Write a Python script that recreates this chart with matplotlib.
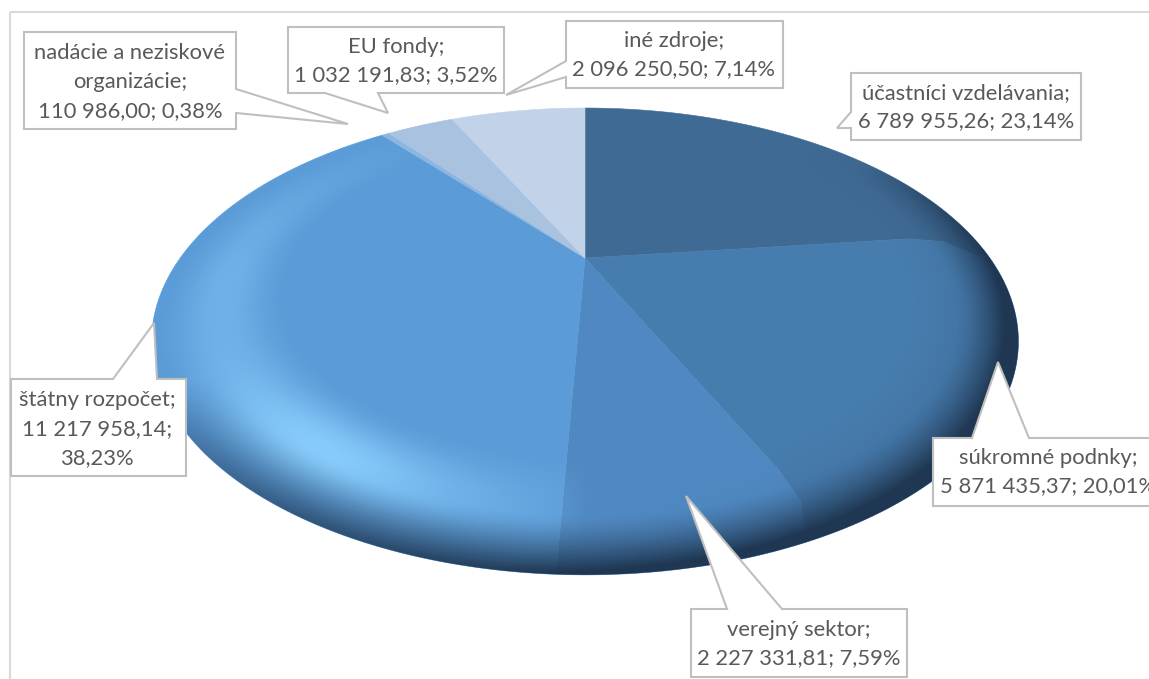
import numpy as np
import matplotlib
matplotlib.use("Agg")
from matplotlib import pyplot as plt
from matplotlib.path import Path
from matplotlib.patches import Polygon, Rectangle
from matplotlib.transforms import Transform, Affine2D

plt.rcParams['font.family'] = ['Lato', 'DejaVu Sans']

categories = ["účastníci vzdelávania", "súkromné podnky", "verejný sektor", "štátny rozpočet",
              "nadácie a neziskové organizácie", "EU fondy", "iné zdroje"]
values = [6789955.26, 5871435.37, 2227331.81, 11217958.14, 110986.00, 1032191.83, 2096250.50]
value_labels = ["6 789 955,26", "5 871 435,37", "2 227 331,81", "11 217 958,14", "110 986,00", "1 032 191,83", "2 096 250,50"]
percent_labels = ["23,14%", "20,01%", "7,59%", "38,23%", "0,38%", "3,52%", "7,14%"]
slice_colors = ["#3f6a93", "#477cae", "#5089c2", "#5b9bd7", "#8db5df", "#a9c2e0", "#c1d2e9"]

W, H = 1149, 679
cx, cy = 585, 258
c = 0.3575
k = 203.6
d = 404.8


def project(xy):
    x, y = xy[:, 0], -xy[:, 1]  # y runs towards the viewer after the flip
    r = np.hypot(x, y)
    th = np.arctan2(x, -y)
    # slice edges curl clockwise where they run over the bevel
    amt = np.clip((r - 0.84) / 0.16, 0, 1) ** 2.2 * np.radians(8) * np.where(th > 0, np.sin(th), 0)
    th = th + amt
    x, y = r * np.sin(th), -r * np.cos(th)
    w = 1 - c * y
    return np.column_stack([cx + d * x / w, cy + k * y / w])


class Perspective(Transform):
    input_dims = output_dims = 2
    has_inverse = False

    def transform_non_affine(self, values):
        return project(np.asarray(values))

    def transform_path_non_affine(self, path):
        big = path.transformed(Affine2D().scale(2000))
        poly = big.to_polygons(closed_only=True)[0] / 2000
        t = np.arange(len(poly))
        # more points so the bent edges stay smooth
        tt = np.linspace(0, len(poly) - 1, (len(poly) - 1) * 12 + 1)
        dense = np.column_stack([np.interp(tt, t, poly[:, 0]), np.interp(tt, t, poly[:, 1])])
        return Path(project(dense), closed=False)


fig = plt.figure(figsize=(W / 100, H / 100), dpi=100)
ax = fig.add_axes([0, 0, 1, 1])

wedges, _ = ax.pie(values, colors=slice_colors, startangle=90, counterclock=False, radius=1)
ax.set_aspect("auto")
ax.axis("off")
persp = Perspective()
for w, col in zip(wedges, slice_colors):
    w.set_transform(persp + ax.transData)
    w.set_edgecolor(col)
    w.set_linewidth(0.4)
    w.set_clip_on(False)

# bevel shading, worked out per pixel on the pie plane
px, py = np.meshgrid(np.arange(W) + 0.5, np.arange(H) + 0.5)
Y = py - cy
tp = Y / (k + c * Y)
xp = (px - cx) * (1 - c * tp) / d
r = np.hypot(xp, tp)
nx, nt = xp / np.maximum(r, 1e-6), tp / np.maximum(r, 1e-6)

b = np.clip((r - 0.70) / 0.30, 0, 1)
ring = np.sin(np.pi * b ** 1.05) ** 2
side = 0.42 * np.clip(-nx, 0, 1) ** 0.5 * np.clip(nt + 0.9, 0, 1)
spot = 0.58 * np.exp(-((nx + 0.55) ** 2 + (nt - 0.83) ** 2) / 0.10)
a_l = np.clip((side + spot) * ring, 0, 1)

rim = np.clip((r - 0.87) / 0.125, 0, 1) ** 1.5
edge = np.clip(nt * 0.95 + nx * 0.6, 0, 1) ** 0.7
soft = np.clip((r - 0.76) / 0.24, 0, 1) ** 2 * np.clip(nx + 0.1, 0, 1) * np.clip(nt + 0.7, 0, 1) * 0.4
a_d = np.clip(edge * rim + soft, 0, 0.97)

light_col = np.array([0.55, 0.82, 1.0])
dark_col = np.array([0.12, 0.21, 0.31])
alpha = 1 - (1 - a_l) * (1 - a_d)
img = np.zeros((H, W, 4))
for i in range(3):
    img[..., i] = (light_col[i] * a_l * (1 - a_d) + dark_col[i] * a_d) / np.maximum(alpha, 1e-6)
img[..., 3] = alpha
im = ax.imshow(img, extent=(0, W, H, 0), zorder=2, aspect="auto", interpolation="bilinear")
im.set_clip_path(Path.unit_circle(), persp + ax.transData)
ax.set_xlim(0, W)
ax.set_ylim(H, 0)

# chart frame, cut off at right and bottom like the reference
ax.add_patch(Rectangle((10, 12), W + 20, H + 20, fill=False, ec="#d9d9d9", lw=1.5, zorder=1))

grey = "#bfbfbf"
text_col = "#595959"
callouts = [
    [(851, 73), (1081, 73), (1081, 140), (851, 140), (851, 128), (837, 128), (851, 112)],
    [(933, 438), (972, 438), (998, 362), (1029, 438), (1160, 438), (1160, 506), (933, 506)],
    [(691, 609), (727, 609), (686, 496), (782, 609), (907, 609), (907, 677), (691, 677)],
    [(11, 379), (113, 379), (154, 323), (157, 379), (186, 379), (186, 476), (11, 476)],
    [(24, 32), (236, 32), (236, 89), (348, 124), (236, 113), (236, 129), (24, 129)],
    [(288, 27), (504, 27), (504, 93), (378, 93), (388, 113), (325, 93), (288, 93)],
    [(566, 21), (783, 21), (783, 88), (566, 88), (566, 77), (506, 95), (566, 61)],
]
texts = [
    (categories[0] + ";\n" + value_labels[0] + "; " + percent_labels[0], 966, 107),
    (categories[1] + ";\n" + value_labels[1] + "; " + percent_labels[1], 1048, 472),
    (categories[2] + ";\n" + value_labels[2] + "; " + percent_labels[2], 799, 644),
    (categories[3] + ";\n" + value_labels[3] + ";\n" + percent_labels[3], 97, 429),
    ("nadácie a neziskové\norganizácie;\n" + value_labels[4] + "; " + percent_labels[4], 130, 82),
    (categories[5] + ";\n" + value_labels[5] + "; " + percent_labels[5], 396, 61),
    (categories[6] + ";\n" + value_labels[6] + "; " + percent_labels[6], 674, 55),
]
for pts, (s, tx, ty) in zip(callouts, texts):
    ax.add_patch(Polygon(pts, closed=True, fc="white", ec=grey, lw=1.5, zorder=3, joinstyle="miter"))
    ax.text(tx, ty, s, ha="center", va="center", fontsize=15.8, color=text_col, linespacing=1.55, zorder=4,
            clip_on=True)

fig.savefig("out.png", dpi=100)
